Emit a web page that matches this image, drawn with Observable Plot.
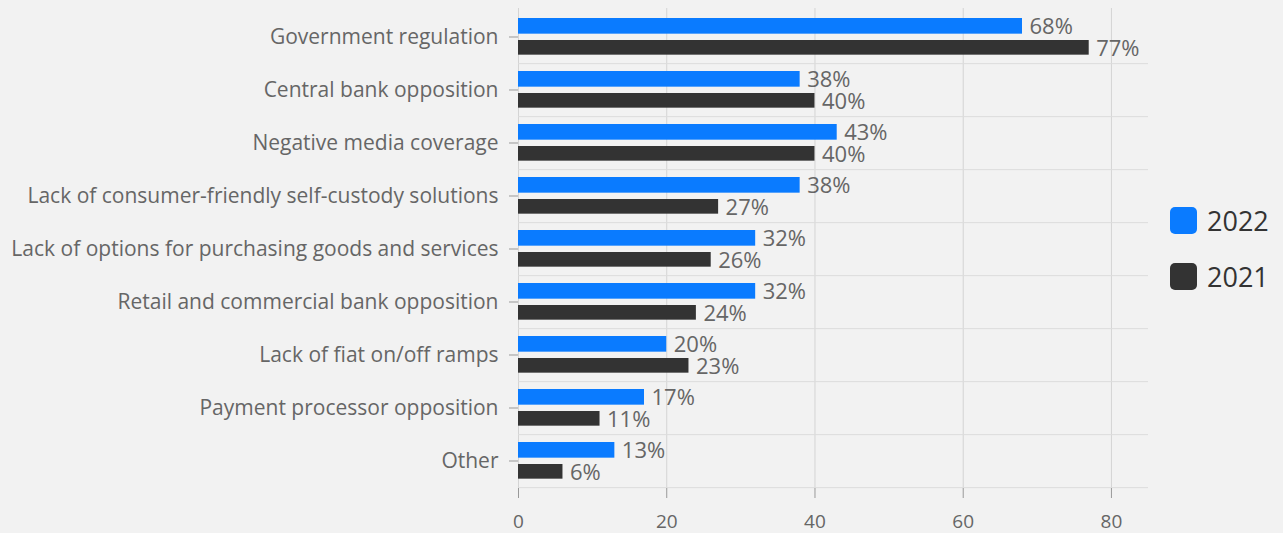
<!DOCTYPE html>
<html>
<head>
<meta charset="utf-8">
<script src="https://cdn.jsdelivr.net/npm/d3@7"></script>
<script src="https://cdn.jsdelivr.net/npm/@observablehq/plot@0.6"></script>
<style>
  html, body { margin: 0; padding: 0; background: #f2f2f2; }
  #wrap { position: relative; width: 1283px; height: 533px; }
  .legend { position: absolute; left: 1170px; height: 27px; font-family: "Open Sans", sans-serif; font-size: 27px; color: #333; display: flex; align-items: center; }
  .legend .sw { width: 27px; height: 27px; border-radius: 5px; margin-right: 10px; flex: none; }
</style>
</head>
<body>
<div id="wrap"></div>
<script>
const categories = [
  "Government regulation",
  "Central bank opposition",
  "Negative media coverage",
  "Lack of consumer-friendly self-custody solutions",
  "Lack of options for purchasing goods and services",
  "Retail and commercial bank opposition",
  "Lack of fiat on/off ramps",
  "Payment processor opposition",
  "Other"
];
const values2022 = [68, 38, 43, 38, 32, 32, 20, 17, 13];
const values2021 = [77, 40, 40, 27, 26, 24, 23, 11, 6];
const years = ["2022", "2021"];
const xTicks = [0, 20, 40, 60, 80];

const colors = {"2022": "#0a7bff", "2021": "#333333"};

const rows2022 = categories.map((c, i) => ({category: c, year: years[0], value: values2022[i]}));
const rows2021 = categories.map((c, i) => ({category: c, year: years[1], value: values2021[i]}));

const W = 1283, H = 533;
const mTop = 8, mBottom = 45, mLeft = 518, mRight = 135;
const bw = (H - mTop - mBottom) / categories.length;

const chart = Plot.plot({
  width: W,
  height: H,
  marginTop: mTop,
  marginBottom: mBottom,
  marginLeft: mLeft,
  marginRight: mRight,
  style: {background: "#f2f2f2", fontFamily: "Open Sans, sans-serif", fontSize: "21px", color: "#666", overflow: "visible"},
  x: {domain: [0, 85]},
  y: {domain: categories, padding: 0},
  marks: [
    Plot.gridX({ticks: xTicks, stroke: "#d4d4d4", strokeOpacity: 1}),
    Plot.ruleY(categories, {y: d => d, dy: bw / 2, stroke: "#dcdcdc", strokeOpacity: 1}),
    Plot.barX(rows2022, {x: "value", y: "category", fill: colors["2022"], insetTop: 8, insetBottom: bw - 24}),
    Plot.barX(rows2021, {x: "value", y: "category", fill: colors["2021"], insetTop: 30, insetBottom: bw - 45}),
    Plot.text(rows2022, {x: "value", y: "category", text: d => d.value + "%", dx: 7, dy: -10, textAnchor: "start", fill: "#666", fontSize: 22}),
    Plot.text(rows2021, {x: "value", y: "category", text: d => d.value + "%", dx: 7, dy: 12, textAnchor: "start", fill: "#666", fontSize: 22}),
    Plot.axisY({tickSize: 9, tickPadding: 11, label: null, fontSize: 21, stroke: "#999", fill: "#666"}),
    Plot.axisX({ticks: xTicks, tickSize: 10, tickPadding: 16, label: null, fontSize: 19, stroke: "#999", fill: "#666"})
  ]
});

const wrap = document.getElementById("wrap");
wrap.appendChild(chart);

const legendTops = [207, 263];
years.forEach((y, i) => {
  const d = document.createElement("div");
  d.className = "legend";
  d.style.top = legendTops[i] + "px";
  d.innerHTML = `<div class="sw" style="background:${colors[y]}"></div><span>${y}</span>`;
  wrap.appendChild(d);
});
</script>
</body>
</html>
